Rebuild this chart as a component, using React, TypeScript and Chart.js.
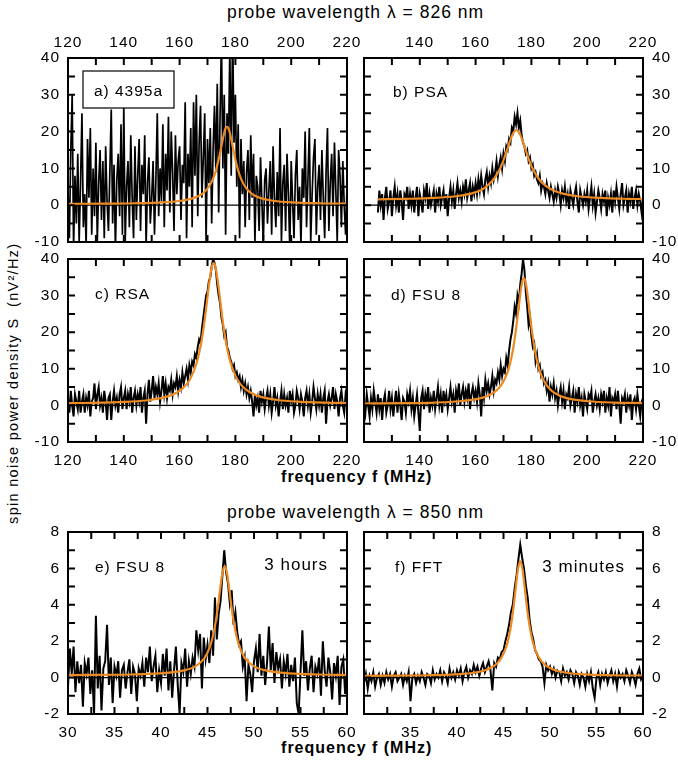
import React, { useEffect, useRef } from 'react';
import { Chart, registerables } from 'chart.js';

Chart.register(...registerables);

const FONT = '"Liberation Sans", Arial, Helvetica, sans-serif';
const ORANGE = '#EE8A22';

// ---------- tick labels ----------
const X826_LABELS = [120, 140, 160, 180, 200, 220];
const X826_LABELS_RIGHT = [140, 160, 180, 200, 220];
const Y826_LABELS = [-10, 0, 10, 20, 30, 40];
const X850_LABELS = [30, 35, 40, 45, 50, 55, 60];
const X850_LABELS_RIGHT = [35, 40, 45, 50, 55, 60];
const Y850_LABELS = [-2, 0, 2, 4, 6, 8];

// ---------- sampling of the measured spectra ----------
const A_START = 120; // MHz
const B_START = 125;
const C_START = 120;
const D_START = 120;
const STEP_826 = 0.5;
const E_START = 30;
const F_START = 30;
const STEP_850 = 0.2;

// ---------- measured spectra (nV^2/Hz) ----------
const spectrumA = [
  4, -9, 15, 30, -12, 8, -5, 14, -10, 6,
  25, -6, 3, -11, 18, 2, 21, -8, 10, -3,
  17, -10, 6, 15, -4, 12, -9, 16, 1, -7,
  9, 26, -5, 11, -12, 7, 14, -3, 22, -8,
  27, -10, 5, 12, -6, 19, 2, -9, 16, -4,
  8, 18, -7, 11, 3, 19, -11, 6, 13, -5,
  2, 12, -8, 7, 25, -3, 10, 1, 22, -6,
  14, 4, 24, -2, 20, 9, -7, 19, 3, 12,
  16, -4, 11, 6, 28, -9, 14, 5, 21, -6,
  28, 8, 30, -3, 17, 27, 2, 13, 25, -10,
  18, 6, 21, -5, 15, 27, 9, 33, -2, 24,
  45, 10, 30, -8, 25, 14, 43, 8, 48, 17,
  30, 5, 22, -9, 18, 3, 12, -6, 9, 15,
  -4, 19, 2, 14, -10, 8, 5, -7, 13, 1,
  -11, 7, 10, -5, 4, 12, -8, 16, 2, -6,
  9, -3, 21, -10, 6, 11, -7, 14, 3, -12,
  12, 1, -9, 8, 15, -4, 5, -11, 10, 2,
  20, -6, 7, 21, -10, 3, 13, 18, -8, 5,
  11, -4, 15, 2, -9, 9, 21, -7, 6, 14,
  -3, 17, 4, -10, 15, 8, -6, 12, 0, -8,
  5,
];

const spectrumB = [
  -2, 4, 0, 3, -4, 2, 5, -1, 1, 4,
  -3, 2, 5, 0, 3, -2, 4, 1, -4, 3,
  2, 5, -1, 3, 0, 4, -2, 2, 5, -3,
  3, 1, -2, 4, 2, 6, -1, 3, 0, 2,
  4, -2, 3, 1, 5, 0, 2, 4, -1, 3,
  -3, 2, 5, 1, 4, -1, 3, 6, 2, 4,
  1, 5, 3, 7, 2, 4, 6, 1, 5, 3,
  6, 3, 7, 4, 8, 5, 3, 7, 9, 5,
  8, 6, 10, 7, 9, 12, 8, 11, 13, 10,
  14, 12, 16, 15, 18, 17, 21, 20, 24, 22,
  25, 21, 23, 19, 17, 16, 14, 15, 12, 13,
  10, 11, 8, 9, 7, 6, 8, 4, 6, 5,
  3, 6, 4, 2, 5, 3, 1, 4, 2, 5,
  3, 0, 4, 2, 5, 1, 3, -1, 4, 2,
  0, 3, 5, 1, -2, 4, 2, 0, 3, 1,
  4, -1, 2, 5, 0, 3, -2, 1, 4, 2,
  -1, 3, 1, 4, -3, 2, 0, 3, -2, 4,
  1, 5, 2, -1, 3, 6, 0, 2, 4, -2,
  3, 1, 5, -1, 2, 4, 0, 3, 1, -2,
  2,
];

const spectrumC = [
  2, -2, 4, 0, -3, 3, 1, -1, 4, -2,
  1, 3, -2, 2, 0, 4, -3, 1, 2, 6,
  -1, 3, 5, 0, 2, -2, 4, 1, -4, 2,
  3, -4, 1, 4, 0, 2, -2, 3, 5, -1,
  2, 4, -1, 3, 1, 5, -2, 2, 4, 0,
  3, 1, 5, -2, 2, 4, -5, 3, 7, 1,
  4, 8, 2, 5, 3, 6, 1, 4, 8, 3,
  6, 2, 5, 4, 7, 3, 6, 5, 8, 4,
  7, 5, 9, 6, 8, 10, 7, 11, 9, 12,
  11, 14, 13, 16, 18, 17, 21, 24, 27, 30,
  31, 34, 35, 38, 40, 39, 37, 33, 30, 28,
  24, 22, 19, 20, 16, 15, 13, 12, 10, 11,
  8, 9, 7, 8, 5, 7, 4, 6, 3, 5,
  2, 4, 1, -3, 3, 0, 2, -2, 4, 1,
  3, -1, 2, 4, 0, 3, -2, 1, 5, 0,
  2, -3, 1, 4, -1, 3, 0, 2, -2, 4,
  1, 3, -2, 0, 4, 2, -1, 3, 1, -3,
  2, 4, 0, 3, -2, 1, 5, 2, -1, 3,
  0, 3, -2, 2, 4, -5, 1, 3, 0, 2,
  5, -1, 3, 1, -3, 2, 4, 0, -2, 3,
  1,
];

const spectrumD = [
  1, -2, 3, 0, -3, 2, -1, 4, 1, -2,
  3, -1, 2, -4, 1, 3, -2, 0, 4, -1,
  2, -3, 1, 4, -2, 3, 0, -4, 2, 1,
  -2, 3, 1, 4, -1, 2, -3, 0, 3, -2,
  -7, 2, 4, -1, 3, 1, 5, -2, 2, 0,
  4, -1, 2, 5, 0, 3, -2, 4, 1, 3,
  -1, 2, 5, 1, 3, -2, 4, 2, 6, 0,
  3, 5, 1, 4, 2, 6, -1, 3, 5, 2,
  4, 1, 6, 3, -3, 5, 2, 7, 4, 6,
  3, 5, 8, 4, 7, 6, 9, 7, 11, 8,
  10, 9, 13, 11, 15, 18, 20, 23, 27, 25,
  30, 28, 33, 36, 40, 37, 31, 27, 22, 24,
  19, 16, 17, 12, 14, 10, 11, 8, 9, 6,
  7, 4, 6, 1, 5, 3, 6, 2, 4, 0,
  3, 5, 1, 4, -1, 3, 2, 5, 0, 2,
  4, -2, 3, 1, 5, 0, 2, -3, 3, 1,
  -1, 3, 2, 4, -2, 1, 3, 0, 2, -1,
  3, 1, 4, -2, 2, 0, 5, -3, 2, 1,
  3, -1, 4, 0, -5, 2, 1, 3, -2, 2,
  0, 3, -4, 1, 2, -1, 3, 0, -3, 1,
  2,
];

const spectrumE = [
  -0.5, 1.6, 0.2, 1.7, -0.8, 0.9, -0.3, 0.7, -1.6, 0.8,
  0.2, 1.1, -0.9, 0.4, -2.0, 3.4, -0.6, 1.2, -1.8, 0.5,
  0.9, 2.9, -0.4, 1.1, -1.4, 0.6, 0.1, 0.9, -1.1, 0.4,
  0.7, -0.6, 0.3, 1.0, -0.9, 0.6, 0.2, -1.3, 0.5, 0.1,
  0.8, -0.5, 1.1, 0.3, 1.7, -0.2, 0.6, 1.2, -0.8, 0.4,
  -0.3, 1.3, 0.1, 1.6, -0.7, 0.9, -1.1, 0.4, 1.7, -0.4,
  -2.0, 0.8, 0.3, 1.6, -0.5, 0.9, 0.2, 1.1, 0.6, 2.6,
  1.5, 2.4, -0.6, 2.2, 1.0, 1.8, 0.8, 2.6, 1.2, 4.4,
  2.1, 3.5, 4.2, 5.6, 7.0, 5.8, 5.2, 4.1, 4.8, 2.9,
  3.6, 2.5, 1.8, 2.0, 0.6, 1.1, -1.3, 0.7, 0.2, -0.8,
  0.9, 1.6, 0.3, 2.4, 0.1, 1.2, -0.4, 0.8, 2.8, 0.4,
  1.9, -0.3, 1.4, 0.5, 1.0, -0.6, 0.9, 0.2, 1.3, -0.5,
  0.7, -0.2, 1.1, -1.4, -2.0, 0.3, 2.6, 0.1, 0.9, -0.7,
  0.5, 1.2, -0.8, 0.6, 0.2, 1.1, -1.0, 2.0, 0.4, -0.5,
  1.1, 0.3, -1.2, 0.8, 0.1, 1.2, -1.5, 0.6, 1.0, -0.9,
  0.3,
];

const spectrumF = [
  -0.3, 0.2, -0.6, 0.1, -0.2, 0.3, -0.5, 0.0, 0.2, -0.4,
  0.1, -0.3, 0.3, -0.1, 0.2, -0.5, 0.1, 0.3, -0.2, 0.0,
  0.2, -0.4, 0.1, -0.2, 0.3, -1.3, 0.0, 0.2, -0.3, 0.1,
  -0.2, 0.3, 0.0, -0.4, 0.2, 0.1, -0.3, 0.4, -0.1, 0.2,
  0.0, 0.4, -0.2, 0.3, 0.1, -0.3, 0.5, 0.0, 0.3, -0.1,
  0.4, 0.1, 0.5, -0.2, 0.3, 0.6, 0.0, 0.4, 0.2, 0.7,
  0.3, 0.6, 0.1, 0.5, 0.8, 0.3, 0.6, 0.9, 0.4, -0.7,
  0.8, 0.6, 1.1, 1.0, 1.4, 1.5, 2.0, 2.4, 2.9, 3.6,
  4.0, 4.9, 5.6, 6.5, 7.3, 6.6, 6.0, 5.1, 4.4, 3.2,
  2.5, 2.1, 1.5, 1.3, 1.0, 0.9, 0.6, -0.3, 0.7, 0.4,
  0.6, 0.2, 0.5, 0.0, 0.4, 0.3, -0.2, 0.5, 0.1, 0.3,
  -0.1, 0.4, 0.2, -0.3, 0.3, 0.1, -0.4, 0.2, 0.0, -0.5,
  0.2, -0.2, 0.3, -0.6, -1.1, 0.0, 0.3, -0.4, 0.2, -0.1,
  0.3, -0.3, 0.1, 0.4, -0.2, 0.2, -0.5, 0.3, 0.0, 0.2,
  -0.2, 0.4, 0.1, -0.3, 0.3, 0.0, -0.4, 0.2, 0.5, -0.1,
  0.1,
];

// ---------- fitted curves ----------
const fitAx = [120, 134, 144, 154, 160, 164, 167, 169, 171, 172, 173, 174, 175, 176, 176.5, 177, 177.5, 178, 179, 180, 181, 182, 183, 185, 187, 190, 194, 200, 210, 220];
const fitAy = [0.38, 0.44, 0.53, 0.78, 1.15, 1.72, 2.59, 3.67, 5.63, 7.2, 9.41, 12.4, 16.1, 19.7, 20.9, 21.3, 20.9, 19.7, 16.1, 12.4, 9.41, 7.2, 5.63, 3.67, 2.59, 1.72, 1.15, 0.78, 0.53, 0.44];

const fitBx = [125, 135, 145, 153, 158, 162, 164.6, 166.6, 168.6, 169.6, 170.6, 171.6, 172.6, 173.6, 174.6, 175.6, 176.6, 177.6, 178.6, 179.6, 180.6, 182.6, 184.6, 187.6, 191.6, 196.6, 204.6, 214.6, 220];
const fitBy = [1.61, 1.73, 1.98, 2.44, 3.08, 4.11, 5.57, 7.19, 9.73, 11.45, 13.5, 15.8, 18.0, 19.75, 20.4, 19.75, 18.0, 15.8, 13.5, 11.45, 9.73, 7.19, 5.57, 4.11, 3.08, 2.44, 1.98, 1.73, 1.66];

const fitCx = [120, 132.2, 142.2, 149.2, 155.2, 159.2, 162.2, 164.2, 166.2, 167.2, 168.2, 169.2, 170.2, 171.2, 171.7, 172.2, 172.7, 173.2, 174.2, 175.2, 176.2, 177.2, 178.2, 180.2, 182.2, 185.2, 189.2, 195.2, 202.2, 212.2, 220];
const fitCy = [0.61, 0.76, 1.04, 1.48, 2.33, 3.58, 5.48, 7.79, 11.83, 14.96, 19.16, 24.6, 30.9, 36.5, 38.3, 38.9, 38.3, 36.5, 30.9, 24.6, 19.16, 14.96, 11.83, 7.79, 5.48, 3.58, 2.33, 1.48, 1.04, 0.76, 0.66];

const fitDx = [120, 134.6, 145.3, 154.3, 160.3, 164.3, 167.3, 169.3, 171.3, 172.3, 173.3, 174.3, 175.3, 176.3, 176.8, 177.3, 177.8, 178.3, 179.3, 180.3, 181.3, 182.3, 183.3, 185.3, 187.3, 190.3, 194.3, 200.3, 209.3, 220];
const fitDy = [0.52, 0.62, 0.78, 1.14, 1.72, 2.6, 3.96, 5.66, 8.76, 11.28, 14.83, 19.74, 25.96, 32.06, 34.07, 34.8, 34.07, 32.06, 25.96, 19.74, 14.83, 11.28, 8.76, 5.66, 3.96, 2.6, 1.72, 1.14, 0.78, 0.63];

const fitEx = [30, 36.85, 39.85, 42.35, 43.6, 44.35, 44.85, 45.35, 45.6, 45.85, 46.1, 46.35, 46.6, 46.85, 47.1, 47.35, 47.6, 47.85, 48.1, 48.35, 48.85, 49.35, 50.1, 51.35, 53.85, 56.85, 60];
const fitEy = [0.14, 0.17, 0.23, 0.38, 0.59, 0.88, 1.22, 1.84, 2.32, 2.97, 3.82, 4.82, 5.73, 6.12, 5.73, 4.82, 3.82, 2.97, 2.32, 1.84, 1.22, 0.88, 0.59, 0.38, 0.23, 0.17, 0.15];

const fitFx = [30, 36.8, 39.8, 42.3, 43.55, 44.3, 44.8, 45.3, 45.55, 45.8, 46.05, 46.3, 46.55, 46.8, 47.05, 47.3, 47.55, 47.8, 48.05, 48.3, 48.8, 49.3, 50.05, 51.3, 53.8, 56.8, 60];
const fitFy = [0.1, 0.13, 0.18, 0.31, 0.51, 0.78, 1.11, 1.7, 2.17, 2.84, 3.74, 4.86, 5.93, 6.4, 5.93, 4.86, 3.74, 2.84, 2.17, 1.7, 1.11, 0.78, 0.51, 0.31, 0.18, 0.13, 0.11];

// ---------- panel layout ----------
type Note = { text: string; x: number; y: number; size: number; align: CanvasTextAlign };
type PanelDef = {
  key: string;
  canvas: { x: number; y: number; w: number; h: number };
  area: { l: number; t: number; r: number; b: number };
  xPos: 'top' | 'bottom';
  yPos: 'left' | 'right';
  xMin: number; xMax: number; xStep: number; xLabels: number[];
  yMin: number; yMax: number; yStep: number; yLabels: number[];
  start: number; step: number; values: number[];
  fitX: number[]; fitY: number[];
  lineW: number;
  notes: Note[];
  box?: { x: number; y: number; w: number; h: number };
};

const PANELS: PanelDef[] = [
  {
    key: 'a', canvas: { x: 0, y: 24, w: 368, h: 230 }, area: { l: 68, t: 58, r: 347, b: 242 },
    xPos: 'top', yPos: 'left',
    xMin: 120, xMax: 220, xStep: 10, xLabels: X826_LABELS,
    yMin: -10, yMax: 40, yStep: 5, yLabels: Y826_LABELS,
    start: A_START, step: STEP_826, values: spectrumA, fitX: fitAx, fitY: fitAy, lineW: 1.7,
    notes: [{ text: 'a) 4395a', x: 60.5, y: 33.5, size: 15.5, align: 'center' }],
    box: { x: 15, y: 13, w: 91, h: 37 },
  },
  {
    key: 'b', canvas: { x: 350, y: 24, w: 328, h: 230 }, area: { l: 364, t: 58, r: 643, b: 242 },
    xPos: 'top', yPos: 'right',
    xMin: 120, xMax: 220, xStep: 10, xLabels: X826_LABELS_RIGHT,
    yMin: -10, yMax: 40, yStep: 5, yLabels: Y826_LABELS,
    start: B_START, step: STEP_826, values: spectrumB, fitX: fitBx, fitY: fitBy, lineW: 2,
    notes: [{ text: 'b) PSA', x: 29, y: 35, size: 15.5, align: 'left' }],
  },
  {
    key: 'c', canvas: { x: 0, y: 247, w: 368, h: 228 }, area: { l: 68, t: 259, r: 347, b: 442 },
    xPos: 'bottom', yPos: 'left',
    xMin: 120, xMax: 220, xStep: 10, xLabels: X826_LABELS,
    yMin: -10, yMax: 40, yStep: 5, yLabels: Y826_LABELS,
    start: C_START, step: STEP_826, values: spectrumC, fitX: fitCx, fitY: fitCy, lineW: 2,
    notes: [{ text: 'c) RSA', x: 27, y: 36, size: 15.5, align: 'left' }],
  },
  {
    key: 'd', canvas: { x: 350, y: 247, w: 328, h: 228 }, area: { l: 364, t: 259, r: 643, b: 442 },
    xPos: 'bottom', yPos: 'right',
    xMin: 120, xMax: 220, xStep: 10, xLabels: X826_LABELS_RIGHT,
    yMin: -10, yMax: 40, yStep: 5, yLabels: Y826_LABELS,
    start: D_START, step: STEP_826, values: spectrumD, fitX: fitDx, fitY: fitDy, lineW: 2,
    notes: [{ text: 'd) FSU 8', x: 27, y: 36.5, size: 15.5, align: 'left' }],
  },
  {
    key: 'e', canvas: { x: 0, y: 520, w: 368, h: 226 }, area: { l: 68, t: 532, r: 347, b: 714 },
    xPos: 'bottom', yPos: 'left',
    xMin: 30, xMax: 60, xStep: 2.5, xLabels: X850_LABELS,
    yMin: -2, yMax: 8, yStep: 1, yLabels: Y850_LABELS,
    start: E_START, step: STEP_850, values: spectrumE, fitX: fitEx, fitY: fitEy, lineW: 2,
    notes: [
      { text: 'e) FSU 8', x: 27, y: 36, size: 15.5, align: 'left' },
      { text: '3 hours', x: 260, y: 33.5, size: 17, align: 'right' },
    ],
  },
  {
    key: 'f', canvas: { x: 350, y: 520, w: 328, h: 226 }, area: { l: 364, t: 532, r: 643, b: 714 },
    xPos: 'bottom', yPos: 'right',
    xMin: 30, xMax: 60, xStep: 2.5, xLabels: X850_LABELS_RIGHT,
    yMin: -2, yMax: 8, yStep: 1, yLabels: Y850_LABELS,
    start: F_START, step: STEP_850, values: spectrumF, fitX: fitFx, fitY: fitFy, lineW: 2,
    notes: [
      { text: 'f) FFT', x: 31, y: 35.5, size: 15.5, align: 'left' },
      { text: '3 minutes', x: 261, y: 35, size: 17, align: 'right' },
    ],
  },
];

const hasLabel = (list: number[], v: number) => list.some((l) => Math.abs(l - v) < 1e-6);

const decoPlugin = {
  id: 'deco',
  beforeUpdate(chart: any) {
    chart.ctx.letterSpacing = '1px';
  },
  beforeDraw(chart: any) {
    chart.ctx.letterSpacing = '1px';
  },
  beforeDatasetsDraw(chart: any) {
    const { ctx, chartArea: a } = chart;
    const y0 = chart.scales.y.getPixelForValue(0);
    ctx.save();
    ctx.strokeStyle = '#000';
    ctx.lineWidth = 1.2;
    ctx.beginPath();
    ctx.moveTo(a.left, y0);
    ctx.lineTo(a.right, y0);
    ctx.stroke();
    ctx.restore();
  },
  afterDatasetsDraw(chart: any, _args: any, opts: any) {
    const { ctx, chartArea: a } = chart;
    const xs = chart.scales.x;
    const ys = chart.scales.y;
    const T = 7;
    ctx.save();
    ctx.strokeStyle = '#000';
    ctx.lineWidth = 2;
    ctx.beginPath();
    xs.ticks.forEach((t: any) => {
      if (t.value <= xs.min + 1e-9 || t.value >= xs.max - 1e-9) return;
      const p = xs.getPixelForValue(t.value);
      ctx.moveTo(p, a.top);
      ctx.lineTo(p, a.top + T);
      ctx.moveTo(p, a.bottom);
      ctx.lineTo(p, a.bottom - T);
    });
    ys.ticks.forEach((t: any) => {
      if (t.value <= ys.min + 1e-9 || t.value >= ys.max - 1e-9) return;
      const p = ys.getPixelForValue(t.value);
      ctx.moveTo(a.left, p);
      ctx.lineTo(a.left + T, p);
      ctx.moveTo(a.right, p);
      ctx.lineTo(a.right - T, p);
    });
    ctx.stroke();
    ctx.strokeRect(a.left, a.top, a.right - a.left, a.bottom - a.top);
    if (opts.box) {
      const b = opts.box;
      ctx.fillStyle = '#fff';
      ctx.fillRect(a.left + b.x, a.top + b.y, b.w, b.h);
      ctx.lineWidth = 1.2;
      ctx.strokeRect(a.left + b.x, a.top + b.y, b.w, b.h);
    }
    ctx.fillStyle = '#000';
    ctx.textBaseline = 'middle';
    (opts.notes || []).forEach((n: Note) => {
      ctx.font = `${n.size}px ${FONT}`;
      ctx.textAlign = n.align;
      ctx.fillText(n.text, a.left + n.x, a.top + n.y);
    });
    ctx.restore();
  },
};

function Panel({ p }: { p: PanelDef }) {
  const ref = useRef<HTMLCanvasElement | null>(null);
  useEffect(() => {
    const canvas = ref.current;
    if (!canvas) return;
    const { canvas: cv, area } = p;
    const yAxisW = p.yPos === 'left' ? area.l - cv.x : cv.x + cv.w - area.r;
    const xAxisH = p.xPos === 'top' ? area.t - cv.y : cv.y + cv.h - area.b;
    const padding = {
      left: p.yPos === 'left' ? 0 : area.l - cv.x,
      right: p.yPos === 'right' ? 0 : cv.x + cv.w - area.r,
      top: p.xPos === 'top' ? 0 : area.t - cv.y,
      bottom: p.xPos === 'bottom' ? 0 : cv.y + cv.h - area.b,
    };
    const measured = p.values.map((v, i) => ({ x: +(p.start + i * p.step).toFixed(3), y: v }));
    const fit = p.fitX.map((x, i) => ({ x, y: p.fitY[i] }));
    const tickFont = { family: FONT, size: 15.5 };
    const chart = new Chart(canvas, {
      type: 'line',
      data: {
        datasets: [
          {
            label: 'fit',
            data: fit,
            borderColor: ORANGE,
            borderWidth: 2.2,
            pointRadius: 0,
            cubicInterpolationMode: 'monotone',
            clip: 0,
          },
          {
            label: 'spin noise',
            data: measured,
            borderColor: '#000',
            borderWidth: p.lineW,
            pointRadius: 0,
            tension: 0,
            clip: 0,
          },
        ],
      },
      options: {
        animation: false,
        responsive: false,
        devicePixelRatio: 1,
        events: [],
        layout: { padding },
        plugins: {
          legend: { display: false },
          tooltip: { enabled: false },
          deco: { notes: p.notes, box: p.box },
        } as any,
        scales: {
          x: {
            type: 'linear',
            position: p.xPos,
            min: p.xMin,
            max: p.xMax,
            grid: { display: false, drawTicks: false },
            border: { display: false },
            ticks: {
              stepSize: p.xStep,
              maxTicksLimit: 100,
              autoSkip: false,
              maxRotation: 0,
              minRotation: 0,
              padding: p.xPos === 'top' ? 6 : 9,
              color: '#000',
              font: tickFont,
              callback: (v: any) => (hasLabel(p.xLabels, Number(v)) ? String(v) : ''),
            },
            afterFit: (s: any) => {
              s.height = xAxisH;
              s.paddingLeft = 0;
              s.paddingRight = 0;
            },
          },
          y: {
            type: 'linear',
            position: p.yPos,
            min: p.yMin,
            max: p.yMax,
            grid: { display: false, drawTicks: false },
            border: { display: false },
            ticks: {
              stepSize: p.yStep,
              maxTicksLimit: 100,
              autoSkip: false,
              padding: p.yPos === 'left' ? 8 : 9,
              color: '#000',
              font: tickFont,
              callback: (v: any) => (hasLabel(p.yLabels, Number(v)) ? String(v) : ''),
            },
            afterFit: (s: any) => {
              s.width = yAxisW;
              s.paddingTop = 0;
              s.paddingBottom = 0;
            },
          },
        },
      } as any,
      plugins: [decoPlugin as any],
    });
    return () => chart.destroy();
  }, [p]);
  return (
    <canvas
      ref={ref}
      width={p.canvas.w}
      height={p.canvas.h}
      style={{ position: 'absolute', left: p.canvas.x, top: p.canvas.y }}
    />
  );
}

const textBase: React.CSSProperties = {
  position: 'absolute',
  fontFamily: FONT,
  color: '#000',
  letterSpacing: '1px',
  whiteSpace: 'pre',
  textAlign: 'center',
  lineHeight: 1,
};

export default function App() {
  return (
    <div style={{ position: 'absolute', left: 0, top: 0, width: 678, height: 764, background: '#fff', overflow: 'hidden' }}>
      <div style={{ ...textBase, left: 155.5, width: 400, top: 4, fontSize: 17.5 }}>probe wavelength λ = 826 nm</div>
      <div style={{ ...textBase, left: 155.5, width: 400, top: 504, fontSize: 17.5 }}>probe wavelength λ = 850 nm</div>
      <div style={{ ...textBase, left: 156.7, width: 400, top: 469, fontSize: 16, fontWeight: 'bold' }}>frequency f (MHz)</div>
      <div style={{ ...textBase, left: 156.7, width: 400, top: 740, fontSize: 16, fontWeight: 'bold' }}>frequency f (MHz)</div>
      <div
        style={{
          ...textBase,
          left: 12.5 - 170,
          width: 340,
          top: 383.5 - 7.25,
          height: 14.5,
          fontSize: 14.5,
          letterSpacing: '1.3px',
          transform: 'rotate(-90deg)',
          transformOrigin: 'center center',
        }}
      >
        spin noise power density S  (nV²/Hz)
      </div>
      {PANELS.map((p) => (
        <Panel key={p.key} p={p} />
      ))}
    </div>
  );
}
